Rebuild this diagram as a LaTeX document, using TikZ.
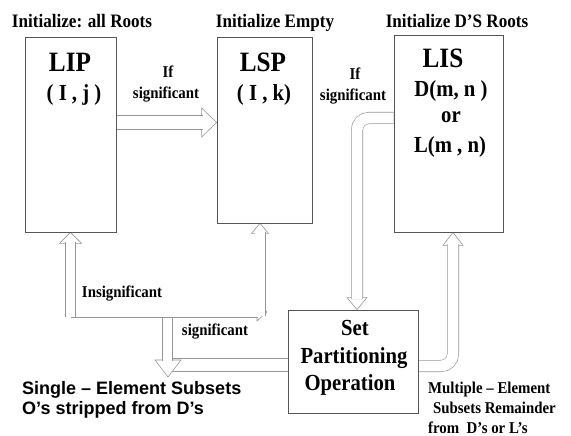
\documentclass[tikz,border=0pt]{standalone}
\usepackage{fontspec}
\setmainfont{Liberation Serif}[FakeStretch=0.9]
\newfontfamily\sansfont{Liberation Sans}
\usetikzlibrary{backgrounds}
\definecolor{boxgray}{RGB}{85,85,85}
\definecolor{arrowgray}{RGB}{150,150,150}

\begin{document}
\begin{tikzpicture}[x=1pt, y=-1pt,
    box/.style={draw=boxgray, line width=0.8pt, inner sep=0pt},
    hollow/.style={draw=arrowgray, line width=0.6pt, double=white, double distance=#1},
    hollow/.default=9.8pt,
    arrowhead/.style={draw=arrowgray, line width=0.6pt, fill=white},
    serif/.style={font=\bfseries\fontsize{#1}{#1}\selectfont, inner sep=0pt, anchor=base},
    sans/.style={font=\sansfont\bfseries\fontsize{18}{20}\selectfont, inner sep=0pt, anchor=base west}
]
\useasboundingbox (0,0) rectangle (571,436);

% the three lists and the partitioning step
\node[box, minimum width=91pt, minimum height=195pt] (lip) at (70.5,134.5) {};
\node[box, minimum width=95pt, minimum height=186pt] (lsp) at (264.5,130) {};
\node[box, minimum width=109pt, minimum height=197pt] (lis) at (448.5,133.5) {};
\node[box, minimum width=130pt, minimum height=103pt] (spo) at (353,361.5) {};

% titles
\node[serif=19] (tlip) at (82,28) {Initialize: all Roots};
\node[serif=19] (tlsp) at (275,28) {Initialize Empty};
\node[serif=19] (tlis) at (457,28) {Initialize D’S Roots};

% box contents
\node[serif=28] (lipname) at (70,72) {LIP};
\node[serif=23] (lipidx) at (74,100) {( I , j )};
\node[serif=28] (lspname) at (263,72) {LSP};
\node[serif=23] (lspidx) at (264,100) {( I , k)};
\node[serif=28] (lisname) at (443,68) {LIS};
\node[serif=23] (lisd) at (451,97) {D(m, n )};
\node[serif=23] (lisor) at (451,123) {or};
\node[serif=23] (lisl) at (450,152) {L(m , n)};
\node[serif=23] (spo1) at (355,335) {Set};
\node[serif=23] (spo2) at (354,363) {Partitioning};
\node[serif=23] (spo3) at (350,390) {Operation};

% arrow labels
\node[serif=16.5] (if1) at (168,78) {If};
\node[serif=16.5] (sig1) at (166,99) {significant};
\node[serif=16.5] (if2) at (355,80) {If};
\node[serif=16.5] (sig2) at (353,100) {significant};
\node[serif=16.5] (insig) at (122,297) {Insignificant};
\node[serif=16.5] (sig3) at (215,335) {significant};

% outputs
\node[sans] (single1) at (22,394) {Single – Element Subsets};
\node[sans] (single2) at (22,414) {O’s stripped from D’s};
\node[serif=16.5, anchor=base west] (multi1) at (428,393) {Multiple – Element};
\node[serif=16.5, anchor=base west] (multi2) at (433,413) {Subsets Remainder};
\node[serif=16.5, anchor=base west] (multi3) at (428,433) {from \ D’s or L’s};

\coordinate (fork) at (167.5,312);
\coordinate (sgl) at (168,377);
\coordinate (bar) at (267,312);

\begin{scope}[on background layer]
% LIP -> LSP
\draw[arrowhead] (lsp.west |- 0,122.5) -- ++(-15,-14.5) -- ++(0,29) -- cycle;
\draw[hollow=13.8pt] (lip.east |- 0,122.5) -- (203,122.5);
% LIS -> set partitioning
\draw[arrowhead] ([xshift=4pt]spo.north) -- ++(-10,-12) -- ++(20,0) -- cycle;
\draw[hollow=10.8pt, rounded corners=12pt] (lis.west |- 0,118) -| (357,299);
% set partitioning -> LIS
\draw[arrowhead] ([xshift=4.5pt]lis.south) -- ++(-10,13) -- ++(20,0) -- cycle;
\draw[hollow=10.8pt, rounded corners=12pt] (spo.east |- 0,366) -| (453,244);
% set partitioning -> single element subsets
\draw[hollow=12.8pt] (spo.west |- 0,365) -- (168,365);
\draw[arrowhead] (sgl) -- ++(-13,-17) -- ++(26,0) -- cycle;
\draw[hollow] (fork) -- (167.5,361);
% insignificant / significant
\draw[arrowhead] (bar) -- ++(-10,-9) -- ++(0,18) -- cycle;
\draw[hollow] (lip.south |- 0,312) -- (258,312);
\draw[arrowhead] ([xshift=-4.5pt]lsp.south) -- ++(-8.5,10) -- ++(17,0) -- cycle;
\draw[hollow] (260,316) -- (260,232);
\draw[arrowhead] (lip.south) -- ++(-11,11) -- ++(22,0) -- cycle;
\draw[hollow] (lip.south |- 0,317) -- (lip.south |- 0,242);
\end{scope}
\end{tikzpicture}
\end{document}
